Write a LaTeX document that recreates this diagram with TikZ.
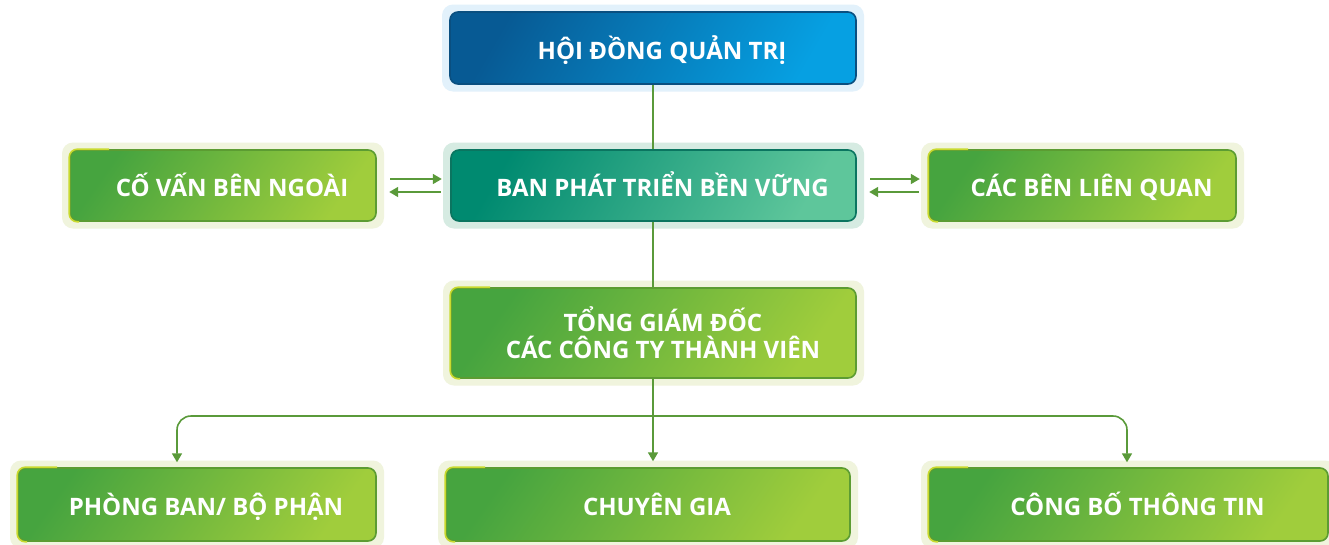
\documentclass[tikz,border=0pt]{standalone}
\usepackage{fontspec}
\setmainfont{Open Sans}
\usetikzlibrary{arrows.meta}
\definecolor{bluedark}{HTML}{075A94}
\definecolor{bluelight}{HTML}{06A0E2}
\definecolor{blueedge}{HTML}{0A4F80}
\definecolor{bluehalo}{HTML}{E2F1FB}
\definecolor{tealdark}{HTML}{008A70}
\definecolor{teallight}{HTML}{5EC69B}
\definecolor{tealedge}{HTML}{0B7560}
\definecolor{tealhalo}{HTML}{D6EBE2}
\definecolor{grndark}{HTML}{46A43F}
\definecolor{grnlight}{HTML}{A0CD3C}
\definecolor{grnedge}{HTML}{5C9C32}
\definecolor{grnhalo}{HTML}{F0F4DD}
\definecolor{grnyel}{HTML}{C9DA2E}
\definecolor{linegreen}{HTML}{5A9A3A}
\tikzset{
  box/.style={rectangle, rounded corners=8pt, line width=1.6pt, inner sep=0pt},
  bluebox/.style={box, draw=blueedge, top color=bluedark, bottom color=bluelight, shading angle=60},
  tealbox/.style={box, draw=tealedge, top color=tealdark, bottom color=teallight, shading angle=60},
  grnbox/.style={box, draw=grnedge, top color=grndark, bottom color=grnlight, shading angle=55},
  halo/.style={rectangle, rounded corners=11pt, fill=#1, inner sep=0pt},
  lbl/.style={text=white, font=\bfseries\fontsize{24}{27}\selectfont, inner sep=0pt, anchor=base},
  hl/.style={draw=grnyel, line width=1.6pt, rounded corners=8pt},
  conn/.style={draw=linegreen, line width=1.6pt},
  arr/.style={conn, -{Triangle[width=10pt,length=9pt]}},
}
\newcommand\orgbox[8]{%
  \node[halo=#7, minimum width=#4+16, minimum height=#5+15] (#1h) at (#2,#3) {};
  \node[#6, minimum width=#4, minimum height=#5] (#1) at (#2,#3) {};
  \node[lbl] (#1t) at (#2+9,#3+11) {#8};
}
\newcommand\hilite[1]{%
  \draw[hl] ([xshift=10pt]#1.south west) -- (#1.south west) -- (#1.north west) -- ([xshift=40pt]#1.north west);
}
\begin{document}
\begin{tikzpicture}[x=1pt,y=-1pt]
\useasboundingbox (0,0) rectangle (1329,544);
\fill[white] (0,0) rectangle (1329,544);
\orgbox{hd}{653}{48}{406}{72}{bluebox}{bluehalo}{HỘI ĐỒNG QUẢN TRỊ}
\orgbox{bp}{653.5}{185.5}{405}{71}{tealbox}{tealhalo}{BAN PHÁT TRIỂN BỀN VỮNG}
\orgbox{cv}{223}{185.5}{306}{71}{grnbox}{grnhalo}{CỐ VẤN BÊN NGOÀI}
\orgbox{cb}{1082.5}{185.5}{307}{71}{grnbox}{grnhalo}{CÁC BÊN LIÊN QUAN}
\orgbox{tg}{653.5}{333}{405}{90}{grnbox}{grnhalo}{}
\node[lbl] (tgt1) at (663,331) {TỔNG GIÁM ĐỐC};
\node[lbl] (tgt2) at (663,358) {CÁC CÔNG TY THÀNH VIÊN};
\orgbox{pb}{197}{504.5}{358}{73}{grnbox}{grnhalo}{PHÒNG BAN/ BỘ PHẬN}
\orgbox{cg}{648}{504.5}{404}{73}{grnbox}{grnhalo}{CHUYÊN GIA}
\orgbox{cp}{1128.5}{504.5}{399}{73}{grnbox}{grnhalo}{CÔNG BỐ THÔNG TIN}
\hilite{cv}\hilite{cb}\hilite{tg}\hilite{pb}\hilite{cg}\hilite{cp}
% connectors
\draw[conn] (hd.south -| 653,0) -- (bp.north -| 653,0);
\draw[conn] (bp.south -| 653,0) -- (tg.north -| 653,0);
\draw[arr] (tg.south -| 653,0) -- ([yshift=-1pt]cgh.north -| 653,0);
\coordinate (br) at (653,416);
\draw[arr, rounded corners=14pt] (br) -| ([yshift=-2pt]pbh.north -| 177,0);
\draw[arr, rounded corners=14pt] (br) -| ([yshift=-2pt]cph.north -| 1127,0);
\draw[arr] ([xshift=6pt,yshift=6.5pt]cvh.east) -- ([xshift=-1pt,yshift=6.5pt]bph.west);
\draw[arr] ([xshift=-2pt,yshift=-6.5pt]bph.west) -- ([xshift=5pt,yshift=-6.5pt]cvh.east);
\draw[arr] ([xshift=6pt,yshift=6.5pt]bph.east) -- ([xshift=-1pt,yshift=6.5pt]cbh.west);
\draw[arr] ([xshift=-2pt,yshift=-6.5pt]cbh.west) -- ([xshift=5pt,yshift=-6.5pt]bph.east);
\end{tikzpicture}
\end{document}
